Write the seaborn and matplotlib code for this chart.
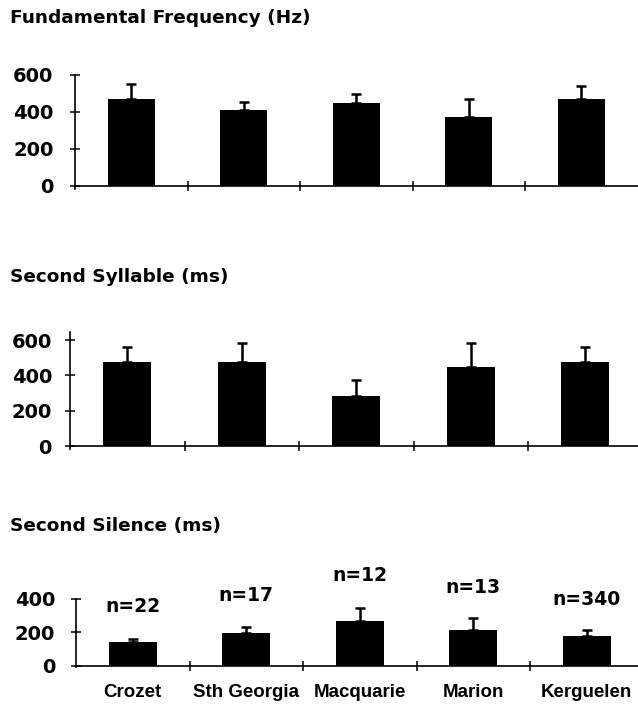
import matplotlib
matplotlib.use("Agg")
import matplotlib.pyplot as plt
import seaborn as sns
import numpy as np
import pandas as pd

# ---------------- data ----------------
sites = ["Crozet", "Sth Georgia", "Macquarie", "Marion", "Kerguelen"]
n_counts = ["n=22", "n=17", "n=12", "n=13", "n=340"]

fund_freq_mean = [471, 413, 446, 374, 472]
fund_freq_sd = [82, 43, 51, 95, 69]

syll2_mean = [474, 474, 282, 445, 475]
syll2_sd = [86, 111, 92, 140, 83]

sil2_mean = [143, 193, 265, 215, 180]
sil2_sd = [15, 39, 80, 68, 33]

titles = ["Fundamental Frequency (Hz)", "Second Syllable (ms)", "Second Silence (ms)"]
yticks_list = [[0, 200, 400, 600], [0, 200, 400, 600], [0, 200, 400]]

# ---------------- layout (pixels -> figure fractions) ----------------
W, H = 638, 706
sns.set_theme(style="white")
plt.rcParams["font.family"] = ["DejaVu Sans"]
plt.rcParams["text.color"] = "black"
plt.rcParams["xtick.color"] = "black"
plt.rcParams["ytick.color"] = "black"
plt.rcParams["axes.labelcolor"] = "black"

fig = plt.figure(figsize=(W / 100, H / 100), dpi=100)

panels = [
    dict(left=75, zero=185.7, top=75.0, width=562.5, ylim=(-18, 600), pad=12.0, title_y=18),
    dict(left=70, zero=446.0, top=331.7, width=572.5, ylim=(-18, 647), pad=9.5, title_y=277),
    dict(left=76, zero=665.5, top=599.0, width=567.5, ylim=(-12, 400), pad=11.5, title_y=526),
]
series = [(fund_freq_mean, fund_freq_sd), (syll2_mean, syll2_sd), (sil2_mean, sil2_sd)]

n_label_y = [357, 422, 539, 467, 397]

for i, (p, (means, sds)) in enumerate(zip(panels, series)):
    ymin, ymax = p["ylim"]
    px_per_unit = (p["zero"] - p["top"]) / ymax
    bottom_px = p["zero"] + (-ymin) * px_per_unit
    ax = fig.add_axes([p["left"] / W, 1 - bottom_px / H, p["width"] / W,
                       (bottom_px - p["top"]) / H])
    df = pd.DataFrame({"site": sites, "value": means})
    sns.barplot(data=df, x="site", y="value", color="black", width=0.42,
                errorbar=None, ax=ax, saturation=1, edgecolor="black", linewidth=0)
    x = np.arange(len(sites))
    ax.errorbar(x, means, yerr=[np.zeros(len(sds)), sds], fmt="none",
                ecolor="black", elinewidth=1.8, capsize=3.8, capthick=1.8, zorder=5)
    ax.set_xlim(-0.5, 4.5)
    ax.set_ylim(ymin, ymax)
    ax.set_xlabel("")
    ax.set_ylabel("")
    for s in ["top", "right"]:
        ax.spines[s].set_visible(False)
    ax.spines["bottom"].set_position(("data", 0))
    ax.spines["left"].set_bounds(ymin, yticks_list[i][-1] if i != 1 else ymax)
    for s in ["left", "bottom"]:
        ax.spines[s].set_color("black")
        ax.spines[s].set_linewidth(1.2)
    ax.set_yticks(yticks_list[i])
    ax.set_yticklabels([str(t) for t in yticks_list[i]], fontsize=14,
                       fontweight="bold", family="DejaVu Sans", color="black")
    ax.tick_params(axis="y", direction="inout", length=7, width=1.1,
                   color="black", labelcolor="black", pad=p["pad"], left=True)
    ax.set_xticks([0.5, 1.5, 2.5, 3.5])
    ax.set_xticklabels([])
    ax.tick_params(axis="x", which="major", direction="inout", length=6.5,
                   width=1.1, color="black", bottom=True)
    if i == 2:
        ax.set_xticks(x, minor=True)
        ax.set_xticklabels(sites, minor=True, fontsize=13.5, fontweight="bold",
                           family="Liberation Sans", color="black")
        ax.tick_params(axis="x", which="minor", length=0, pad=13.5)
        for xi, lab, ly in zip(x, n_counts, n_label_y):
            ax.text(xi, ly, lab, ha="center", va="center", fontsize=13.5,
                    fontweight="bold", family="DejaVu Sans", color="black",
                    clip_on=False)
    ax.patch.set_alpha(0)
    fig.text(10 / W, 1 - p["title_y"] / H, titles[i], ha="left", va="center",
             fontsize=13.3, fontweight="bold", family="DejaVu Sans", color="black")

fig.savefig("out.png", dpi=100, facecolor="white")
